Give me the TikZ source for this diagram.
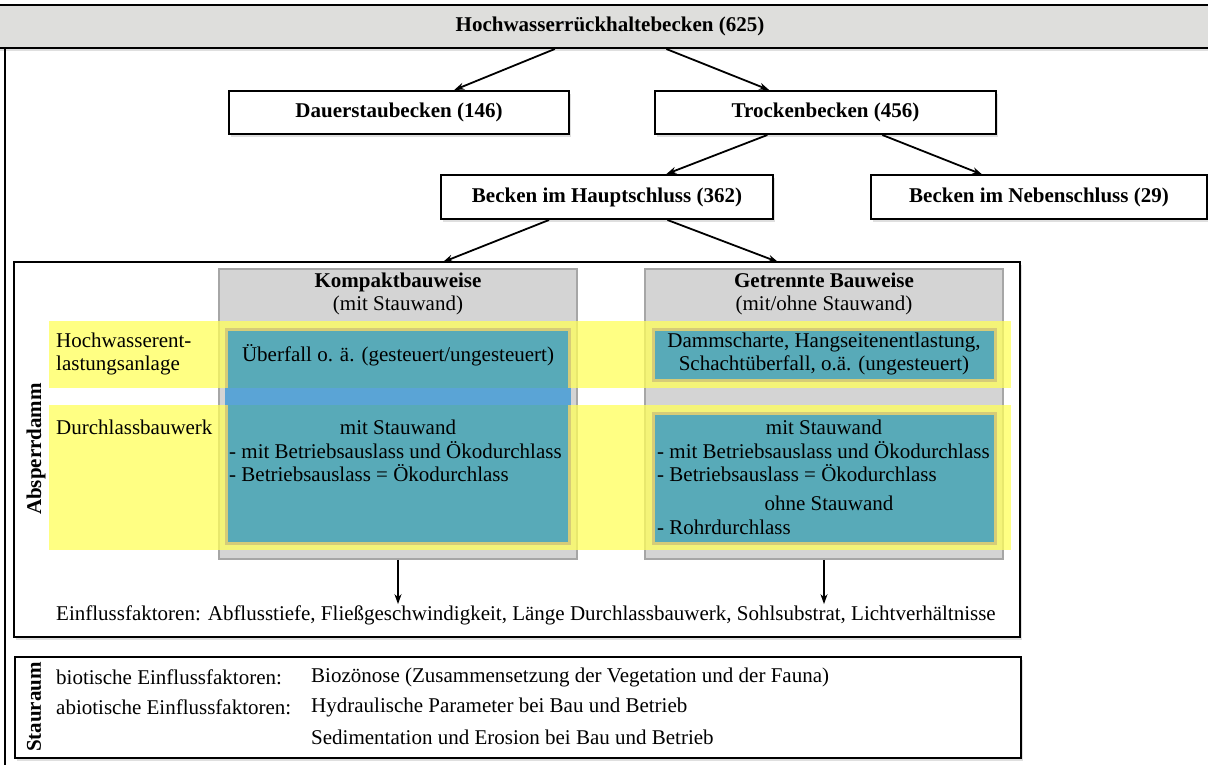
\documentclass[tikz,border=0pt]{standalone}
\usepackage{fontspec}
\setmainfont{Liberation Serif}
\usetikzlibrary{positioning, arrows.meta, shadows}
\definecolor{bandgray}{RGB}{222,222,220}
\definecolor{colgray}{RGB}{212,212,212}
\definecolor{rowyellow}{RGB}{255,255,90}
\definecolor{tealfill}{RGB}{88,170,184}
\definecolor{tealedge}{RGB}{214,204,120}
\definecolor{gapblue}{RGB}{90,164,214}
\tikzset{
  >={Stealth[length=10pt, width=7pt]},
  x=1pt, y=-1pt,
  every node/.style={inner sep=0pt, font=\fontsize{21}{22.5}\selectfont},
  shade/.style={drop shadow={shadow xshift=2pt, shadow yshift=-3pt, opacity=.25}},
  treebox/.style={draw, line width=2pt, fill=white, shade, minimum height=43pt,
    font=\fontsize{21}{22.5}\selectfont\bfseries},
  bigbox/.style={draw, line width=2pt, fill=white, shade},
  colbox/.style={fill=colgray, draw=gray!70, line width=1.5pt},
  rowband/.style={fill=rowyellow, fill opacity=.75},
  tealbox/.style={fill=tealfill, draw=tealedge, line width=3pt},
  conn/.style={->, line width=1.8pt},
}

\begin{document}
\begin{tikzpicture}
  \useasboundingbox (0,0) rectangle (1208,765);

  \node[treebox, fill=bandgray, minimum width=1224pt] (root) at (610,26.5) {Hochwasserrückhaltebecken (625)};
  \draw[line width=2pt] (5,48) -- (5,770);

  \node[treebox, minimum width=340pt] (dauer) at (399,112.5) {Dauerstaubecken (146)};
  \node[treebox, minimum width=341pt, right=84pt of dauer] (trocken) {Trockenbecken (456)};
  \node[treebox, minimum width=332pt, minimum height=44pt] (haupt) at (607,197) {Becken im Hauptschluss (362)};
  \node[treebox, minimum width=336pt, right=96pt of haupt] (neben) {Becken im Nebenschluss (29)};

  \node[bigbox, minimum width=1006pt, minimum height=375pt] (damm) at (517,449.5) {};
  \node[bigbox, minimum width=1006pt, minimum height=101pt] (stau) at (518,707.5) {};

  \coordinate (kin) at (443,262);
  \coordinate (gin) at (778,262);

  \draw[conn] (root) -- (dauer);
  \draw[conn] (root) -- (trocken);
  \draw[conn] (trocken) -- (haupt);
  \draw[conn] (trocken) -- (neben);
  \draw[conn] (haupt) -- (kin);
  \draw[conn] (haupt) -- (gin);

  \node[colbox, minimum width=358pt, minimum height=290pt] (kompakt) at (398,414) {};
  \node[colbox, minimum width=358pt, minimum height=290pt] (getrennt) at (824,414) {};
  \fill[rowband] (49,321) rectangle (1011,388);
  \fill[rowband] (49,405) rectangle (1011,550);

  \node[tealbox, minimum width=343pt, minimum height=214pt] (kteal) at (397.5,436) {};
  \fill[gapblue] (224.5,388) rectangle (570.5,405);
  \node[tealbox, minimum width=342pt, minimum height=51pt] (gueber) at (824,354.5) {};
  \node[tealbox, minimum width=342pt, minimum height=130pt] (gdurch) at (824,478) {};

  \node[align=center] (khead) at (398,294) {\textbf{Kompaktbauweise}\\(mit Stauwand)};
  \node[align=center] (ghead) at (824,294) {\textbf{Getrennte Bauweise}\\(mit/ohne Stauwand)};

  \node[anchor=west, align=left] (hwlabel) at (56,354) {Hochwasserent-\\lastungsanlage};
  \node[anchor=west] (dlabel) at (56,427) {Durchlassbauwerk};
  \node[rotate=90, font=\fontsize{21}{22.5}\selectfont\bfseries] (absperr) at (36,449) {Absperrdamm};

  \node (kueber) at (398,355) {Überfall o. ä. (gesteuert/ungesteuert)};
  \node (kmit) at (398,427) {mit Stauwand};
  \node[anchor=west, align=left] (klist) at (229,461.5) {- mit Betriebsauslass und Ökodurchlass\\- Betriebsauslass = Ökodurchlass};

  \node[align=center] (guebertext) at (824,354) {Dammscharte, Hangseitenentlastung,\\Schachtüberfall, o.ä. (ungesteuert)};
  \node (gmit) at (824,427) {mit Stauwand};
  \node[anchor=west, align=left] (glist) at (657,461.5) {- mit Betriebsauslass und Ökodurchlass\\- Betriebsauslass = Ökodurchlass};
  \node (gohne) at (829,503) {ohne Stauwand};
  \node[anchor=west] (grohr) at (657,527) {- Rohrdurchlass};

  \node[anchor=west] (einfluss) at (56,615) {Einflussfaktoren: Abflusstiefe, Fließgeschwindigkeit, Länge Durchlassbauwerk, Sohlsubstrat, Lichtverhältnisse};
  \draw[conn, shorten >=1pt] (kompakt.south) -- (kompakt.south |- einfluss.north);
  \draw[conn, shorten >=1pt] (getrennt.south) -- (getrennt.south |- einfluss.north);

  \node[rotate=90, font=\fontsize{21}{22.5}\selectfont\bfseries] (stauraum) at (34,707) {Stauraum};
  \node[anchor=west] (bio) at (56,677) {biotische Einflussfaktoren:};
  \node[anchor=west] (biotext) at (311,677) {Biozönose (Zusammensetzung der Vegetation und der Fauna)};
  \node[anchor=west] (abio) at (56,707) {abiotische Einflussfaktoren:};
  \node[anchor=west] (hydr) at (311,707) {Hydraulische Parameter bei Bau und Betrieb};
  \node[anchor=west] (sedi) at (311,737) {Sedimentation und Erosion bei Bau und Betrieb};
\end{tikzpicture}
\end{document}
